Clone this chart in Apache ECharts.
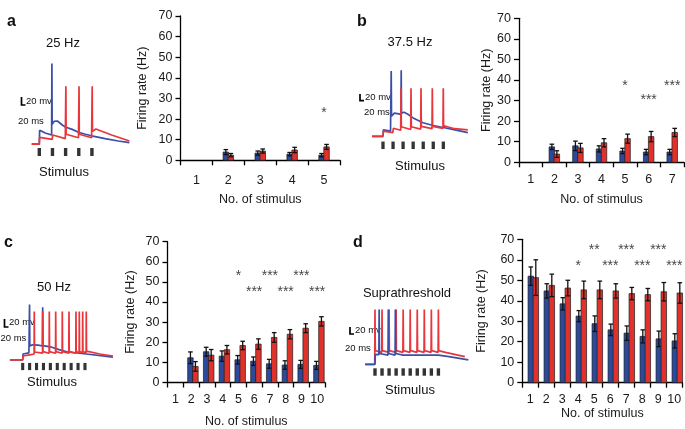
<!DOCTYPE html>
<html><head><meta charset="utf-8">
<script src="https://cdn.jsdelivr.net/npm/echarts/dist/echarts.min.js"></script>
<style>html,body{margin:0;padding:0;background:#fff}#c{width:685px;height:429px}</style>
</head><body><div id="c"></div>
<script>
// ===== bar chart data =====
const catsA = ['1','2','3','4','5'];
const blueA = [null,4,3.5,3,2.5];
const blueErrA = [0,1.2,1,0.8,0.8];
const redA = [null,2.5,4.5,5,6.5];
const redErrA = [0,0.8,1,1.3,1.2];
const starsA = [[4,24.4,'*']];

const catsB = ['1','2','3','4','5','6','7'];
const blueB = [null,7.5,8,6.5,5.5,5,5];
const blueErrB = [0,1.3,2.3,1.5,1.3,1.3,1.3];
const redB = [null,4,7,9.5,11.5,12.5,14.5];
const redErrB = [0,1.6,2.2,2,2.2,2.5,2];
const starsB = [[4,38.4,'*'],[5,31.6,'***'],[6,38.4,'***']];

const catsC = ['1','2','3','4','5','6','7','8','9','10'];
const blueC = [null,12.3,15.3,13.1,11.3,10.6,9.3,8.7,9,8.5];
const blueErrC = [0,2.9,2.2,2.6,2.1,2.1,2.2,2.1,2,2];
const redC = [null,8,13.6,16.3,18.4,19.1,22.4,24,27,30.4];
const redErrC = [0,2.4,2.8,2.1,2.1,2.6,2.4,2.3,2.2,2.3];
const starsC = [[4,54.5,'*'],[6,54.5,'***'],[8,54.5,'***'],[5,46.3,'***'],[7,46.3,'***'],[9,46.3,'***']];

const catsD = ['1','2','3','4','5','6','7','8','9','10'];
const blueD = [52,44.8,38.5,32.5,28.8,25.8,24.2,22.6,21.4,20.4];
const blueErrD = [4.5,3.5,3,2.7,3.8,2.8,3.5,3.2,3.8,3.5];
const redD = [51.3,47.5,46.2,45.3,45.3,44.8,43.5,43,44.4,43.8];
const redErrD = [8.7,5.5,3.8,4.3,4.3,3.5,3,3,4.5,5];
const starsD = [[4,66.4,'**'],[6,66.4,'***'],[8,66.4,'***'],[3,58.3,'*'],[5,58.3,'***'],[7,58.3,'***'],[9,58.3,'***']];

// ===== membrane potential traces: [time (ms), potential (mV)] =====
const stimA = [0,40,80,120,160];
const traceBlueA = [[-23,-70],[0,-70],[1,-35],[18,-42],[37.5,-47],[38.3,132],[39.1,-20],[45,-13],[55,-12],[70,-22],[79,-27],[81,-24],[100,-33],[119,-40],[121,-37],[140,-45],[159,-49],[161,-47],[200,-56],[240,-62],[274,-66]];
const traceRedA = [[-23,-70],[0,-70],[1,-53],[39,-58],[41,-47],[79,-56],[80,-56],[80.8,75],[81.6,-45],[119,-54],[120,-54],[120.8,75],[121.6,-45],[159,-54],[160,-54],[160.8,75],[161.6,-38],[172,-32],[220,-47],[274,-62]];

const stimB = [0,26.7,53.3,80,106.7,133.3,160];
const traceBlueB = [[-29,-70],[0,-70],[1,-54],[20,-57],[21,-57],[21.8,93],[22.6,-20],[30,-12],[42,-14],[47.5,-15],[48.3,95],[49.1,-12],[56,-10],[66,-15],[80,-24],[82,-22],[106,-36],[108,-34],[133,-43],[135,-41],[160,-48],[162,-46],[191,-54],[225,-61]];
const traceRedB = [[-29,-70],[0,-70],[1,-57],[26,-61],[27.5,-50],[47,-55],[47.8,50],[48.6,-46],[73.5,-53],[74.3,50],[75.1,-46],[100,-52],[100.8,50],[101.6,-45],[130,-51],[130.8,50],[131.6,-45],[159,-50],[159.9,50],[160.7,-44],[170,-46],[191,-51],[225,-54]];

const stimC = [0,20,40,60,80,100,120,140,160,180];
const traceBlueC = [[-37,-70],[0,-70],[1,-55],[18,-52],[19,-52],[19.8,69],[20.6,-35],[28,-32],[45,-33],[57,-35],[57.8,62],[58.6,-34],[80,-37],[105,-44],[130,-50],[184,-55],[261,-63]];
const traceRedC = [[-37,-70],[0,-70],[1,-60],[20,-57],[21,-54],[33,-55],[33.5,51],[34.3,-50],[57.3,-53],[57.8,51],[58.6,-49],[76.4,-53],[76.9,51],[77.7,-49],[94.9,-53],[95.4,51],[96.2,-49],[114,-53],[114.5,51],[115.3,-49],[133.3,-53],[133.8,51],[134.6,-49],[153.5,-53],[154,51],[154.8,-49],[163.1,-52],[163.6,51],[164.4,-49],[172.9,-52],[173.4,51],[174.2,-49],[183.3,-52],[183.8,51],[184.6,-48],[223,-55],[261,-60]];

const stimD = [0,20,40,60,80,100,120,140,160,180];
const traceBlueD = [[-28,-70],[0,-70],[1,-45],[11,-46],[11.8,67],[12.6,-43],[37,-47],[37.8,67],[38.6,-43],[57,-47],[57.8,67],[58.6,-43],[80,-47],[82,-44],[100,-47],[102,-44],[120,-47],[122,-44],[140,-47],[142,-44],[160,-47],[162,-44],[180,-47],[182,-45],[210,-51],[265,-59]];
const traceRedD = [[-28,-70],[-0.8,-70],[0,67],[0.8,-36],[19.2,-40],[20,67],[20.8,-36],[39.2,-40],[40,67],[40.8,-36],[59.2,-40],[60,67],[60.8,-36],[79.2,-40],[80,67],[80.8,-36],[99.2,-40],[100,67],[100.8,-36],[119.2,-40],[120,67],[120.8,-36],[139.2,-40],[140,67],[140.8,-36],[159.2,-40],[160,67],[160.8,-36],[179.2,-40],[180,67],[180.8,-36],[200,-40],[255,-51]];

// ===== styling / layout =====
const FONT = '"Liberation Sans", Arial, Helvetica, sans-serif';
const BLUE = '#2b4a9b', RED = '#e0322b', TBLUE = '#3a4fa8', TRED = '#e8363b', INK = '#111';

const barPanels = [
  {grid:{left:180.5, top:16, width:159.5, height:144.3}, cats:catsA, blue:blueA, be:blueErrA, red:redA, re:redErrA, stars:starsA, off:0, lm:14, xng:33, yng:31},
  {grid:{left:519, top:18.3, width:165, height:144}, cats:catsB, blue:blueB, be:blueErrB, red:redB, re:redErrB, stars:starsB, off:0, lm:10.5, xng:31, yng:24},
  {grid:{left:167.5, top:241.7, width:157.5, height:142.6}, cats:catsC, blue:blueC, be:blueErrC, red:redC, re:redErrC, stars:starsC, off:1.8, lm:10.5, xng:32.5, yng:30},
  {grid:{left:522.3, top:239.3, width:160, height:143.4}, cats:catsD, blue:blueD, be:blueErrD, red:redD, re:redErrD, stars:starsD, off:3, lm:10.3, xng:20, yng:34}
];

const tracePanels = [
  {grid:{left:29.43, top:58.2, width:105.26, height:104}, t:[-30,290], v:[-115,145], blue:traceBlueA, red:traceRedA, stim:stimA, stimV:-89.5, stimSize:[3.4,8], blueTop:false},
  {grid:{left:369.8, top:55.1, width:101.8, height:100}, t:[-35,235], v:[-117,133], blue:traceBlueB, red:traceRedB, stim:stimB, stimV:-92.5, stimSize:[3.3,7.5], blueTop:false},
  {grid:{left:7.13, top:294, width:110.7, height:82}, t:[-45,275], v:[-110,95], blue:traceBlueC, red:traceRedC, stim:stimC, stimV:-86.3, stimSize:[3.1,7.2], blueTop:false},
  {grid:{left:360.9, top:298.3, width:109.2, height:82}, t:[-40,270], v:[-110,95], blue:traceBlueD, red:traceRedD, stim:stimD, stimV:-89.3, stimSize:[3.4,7.4], blueTop:true}
];

function makeBarRender(off){
  return function(params, api){
    const i = api.value(0);
    const base = api.coord([i, 0]);
    const cx = base[0] + off;
    const W = 5.5, ov = 0.5;
    const kids = [];
    const add = (v, e, x0, fill) => {
      if (!isFinite(v) || v === null) return;
      const top = api.coord([i, v])[1];
      kids.push({type:'rect', shape:{x:x0, y:top, width:W, height:base[1]-top}, style:{fill:fill, stroke:'#1c1c1c', lineWidth:0.7}});
      const xc = x0 + W/2;
      const yHi = api.coord([i, v+e])[1], yLo = api.coord([i, Math.max(0, v-e)])[1];
      kids.push({type:'line', shape:{x1:xc,y1:yHi,x2:xc,y2:yLo}, style:{stroke:INK, lineWidth:1.3}});
      kids.push({type:'line', shape:{x1:xc-2.3,y1:yHi,x2:xc+2.3,y2:yHi}, style:{stroke:INK, lineWidth:1.3}});
      kids.push({type:'line', shape:{x1:xc-2.3,y1:yLo,x2:xc+2.3,y2:yLo}, style:{stroke:INK, lineWidth:1.3}});
    };
    add(api.value(1), api.value(2), cx - W + ov/2, BLUE);
    add(api.value(3), api.value(4), cx - ov/2, RED);
    return {type:'group', children:kids};
  };
}

const grids = [], xAxes = [], yAxes = [], series = [];
const axisText = {color:'#1a1a1a', fontSize:12.5, fontFamily:FONT};

barPanels.forEach((p, k) => {
  grids.push(p.grid);
  xAxes.push({gridIndex:k, type:'category', data:p.cats, boundaryGap:true,
    axisLine:{lineStyle:{color:'#000', width:1.3}},
    axisTick:{show:true, length:5, interval:0, lineStyle:{color:'#000', width:1.3}},
    axisLabel:Object.assign({interval:0, margin:p.lm}, axisText),
    name:'No. of stimulus', nameLocation:'middle', nameGap:p.xng, nameTextStyle:axisText});
  yAxes.push({gridIndex:k, type:'value', min:0, max:70, interval:10,
    axisLine:{show:true, lineStyle:{color:'#000', width:1.3}},
    axisTick:{show:true, length:5, lineStyle:{color:'#000', width:1.3}},
    splitLine:{show:false},
    axisLabel:Object.assign({margin:8}, axisText),
    name:'Firing rate (Hz)', nameLocation:'middle', nameGap:p.yng, nameTextStyle:axisText});
  series.push({type:'custom', xAxisIndex:k, yAxisIndex:k, renderItem:makeBarRender(p.off),
    encode:{x:0, y:1}, clip:false,
    data:p.cats.map((c, i) => [i, p.blue[i], p.be[i], p.red[i], p.re[i]])});
  series.push({type:'scatter', xAxisIndex:k, yAxisIndex:k, symbolSize:1, itemStyle:{color:'rgba(0,0,0,0)'},
    data:p.stars,
    label:{show:true, position:'inside', formatter:q => q.value[2], color:INK, fontSize:14, fontFamily:FONT, offset:[0,3]}});
});

tracePanels.forEach((p, j) => {
  const k = barPanels.length + j;
  grids.push(p.grid);
  xAxes.push({gridIndex:k, type:'value', min:p.t[0], max:p.t[1], show:false});
  yAxes.push({gridIndex:k, type:'value', min:p.v[0], max:p.v[1], show:false});
  const blueS = {type:'line', xAxisIndex:k, yAxisIndex:k, data:p.blue, symbol:'none', lineStyle:{color:TBLUE, width:1.7}, clip:false};
  const redS = {type:'line', xAxisIndex:k, yAxisIndex:k, data:p.red, symbol:'none', lineStyle:{color:TRED, width:1.7}, clip:false};
  if (p.blueTop) { series.push(redS, blueS); } else { series.push(blueS, redS); }
  series.push({type:'scatter', xAxisIndex:k, yAxisIndex:k, symbol:'rect', symbolSize:p.stimSize,
    itemStyle:{color:'#000'}, data:p.stim.map(t => [t, p.stimV])});
});

// ===== annotations =====
const gfx = [];
function txt(s, x, y, size, opts){
  gfx.push({type:'text', x:x, y:y, silent:true, style:Object.assign({text:s, fill:INK, font:size+'px '+FONT, align:'center', verticalAlign:'middle'}, opts||{})});
}
function scaleBar(x, y1, y2, w){
  gfx.push({type:'polyline', silent:true, shape:{points:[[x,y1],[x,y2],[x+w,y2]]}, style:{stroke:'#000', lineWidth:1.7, fill:null}});
}
// panel letters
[['a',7,14],['b',357,14],['c',4,235],['d',353,235]].forEach(l => txt(l[0], l[1], l[2], 16, {font:'bold 16px '+FONT, align:'left', verticalAlign:'alphabetic'}));
// titles
txt('25 Hz', 63, 43.3, 13);
txt('37.5 Hz', 410, 42.7, 13);
txt('50 Hz', 54, 287, 13);
txt('Suprathreshold', 407, 293.3, 13);
// Stimulus labels
txt('Stimulus', 64, 172.7, 13);
txt('Stimulus', 420, 166.7, 13);
txt('Stimulus', 52, 382.7, 13);
txt('Stimulus', 410, 390, 13);
// scale bars
scaleBar(21.5, 97, 105, 4);  txt('20 mv', 26, 101.5, 9.5, {align:'left'}); txt('20 ms', 18, 121.7, 9.5, {align:'left'});
scaleBar(360, 94, 100.7, 4); txt('20 mv', 365, 97.3, 9.5, {align:'left'}); txt('20 ms', 364, 112.7, 9.5, {align:'left'});
scaleBar(4.5, 319, 327, 4);  txt('20 mv', 9, 322, 9.5, {align:'left'});    txt('20 ms', 0.5, 338, 9.5, {align:'left'});
scaleBar(350, 327, 334, 4);  txt('20 mv', 355, 330, 9.5, {align:'left'});  txt('20 ms', 345, 348, 9.5, {align:'left'});

const chart = echarts.init(document.getElementById('c'), null, {renderer:'canvas', width:685, height:429});
chart.setOption({
  animation:false,
  backgroundColor:'#fff',
  textStyle:{fontFamily:FONT},
  grid:grids, xAxis:xAxes, yAxis:yAxes, series:series, graphic:gfx
});
</script>
</body></html>
